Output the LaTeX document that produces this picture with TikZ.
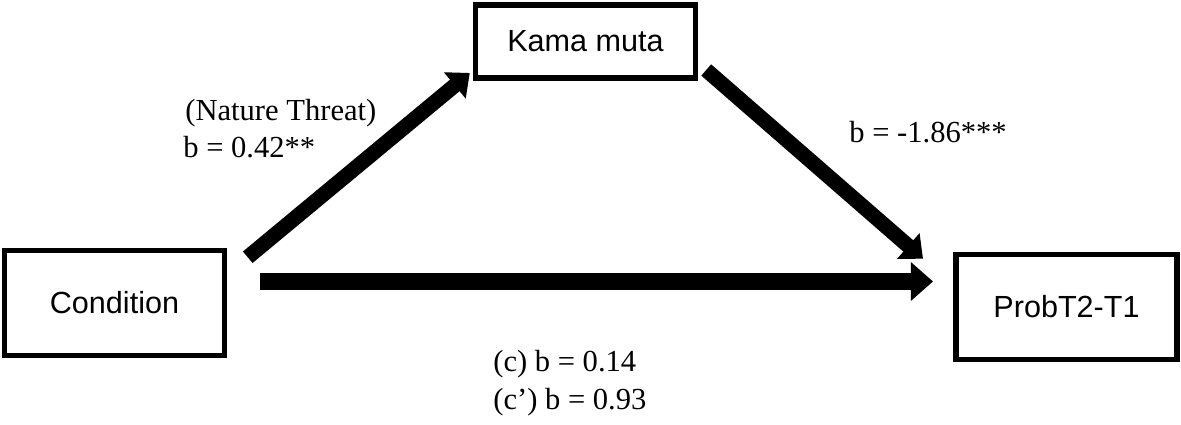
\documentclass[tikz,border=0pt]{standalone}
\usepackage{fontspec}
\setmainfont{Liberation Serif}
\setsansfont{Liberation Sans}
\usepackage{tikz}
\usetikzlibrary{arrows.meta}
\usetikzlibrary{calc}

\begin{document}
\begin{tikzpicture}[x=0.02cm, y=-0.02cm,
		varbox/.style={draw, line width=0.11cm, inner sep=0pt, minimum width=4.4cm, minimum height=2.1cm, font=\sffamily\fontsize{17.4}{21}\selectfont},
		pathlabel/.style={anchor=base west, inner sep=0pt, font=\fontsize{17.4}{21}\selectfont},
		patharrow/.style={-{Triangle[length=0pt 1.3, width=0pt 2.2]}, line width=0.3cm}]
			\useasboundingbox (0,0) rectangle (1181,425);
			% the three variables
			\node[varbox] (cond) at (114.5,303) {Condition};
			\node[varbox, minimum height=1.47cm] (kama) at (585.5,41.5) {Kama muta};
			\node[varbox, minimum width=4.43cm] (prob) at (1066.5,307) {ProbT2-T1};

			% free ends of the paths
			\coordinate (a1s) at ($(cond.north east)+(20.5,9.5)$);
			\coordinate (a1e) at ($(kama.south west)+(-3,-8)$);
			\coordinate (a2s) at ($(kama.south east)+(8,-11)$);
			\coordinate (a2e) at ($(prob.north west)+(-30,7)$);
			\coordinate (cs) at ($(cond.east)+(33,-21.5)$);
			\coordinate (ce) at ($(prob.west)+(-20,-25.5)$);

			% paths a, b and c
			\draw[patharrow] (a1s) -- (a1e);
			\draw[patharrow] (a2s) -- (a2e);
			\draw[patharrow, line width=0.34cm] (cs) -- (ce);

			% coefficients
			\node[pathlabel] (la1) at (185,121) {(Nature Threat)};
			\node[pathlabel] (la2) at (183,158) {b = 0.42**};
			\node[pathlabel] (lb) at (849,143) {b = -1.86***};
			\node[pathlabel] (lc1) at (493,372) {(c) b = 0.14};
			\node[pathlabel] (lc2) at (493,410) {(c’) b = 0.93};
		\end{tikzpicture}
\end{document}
